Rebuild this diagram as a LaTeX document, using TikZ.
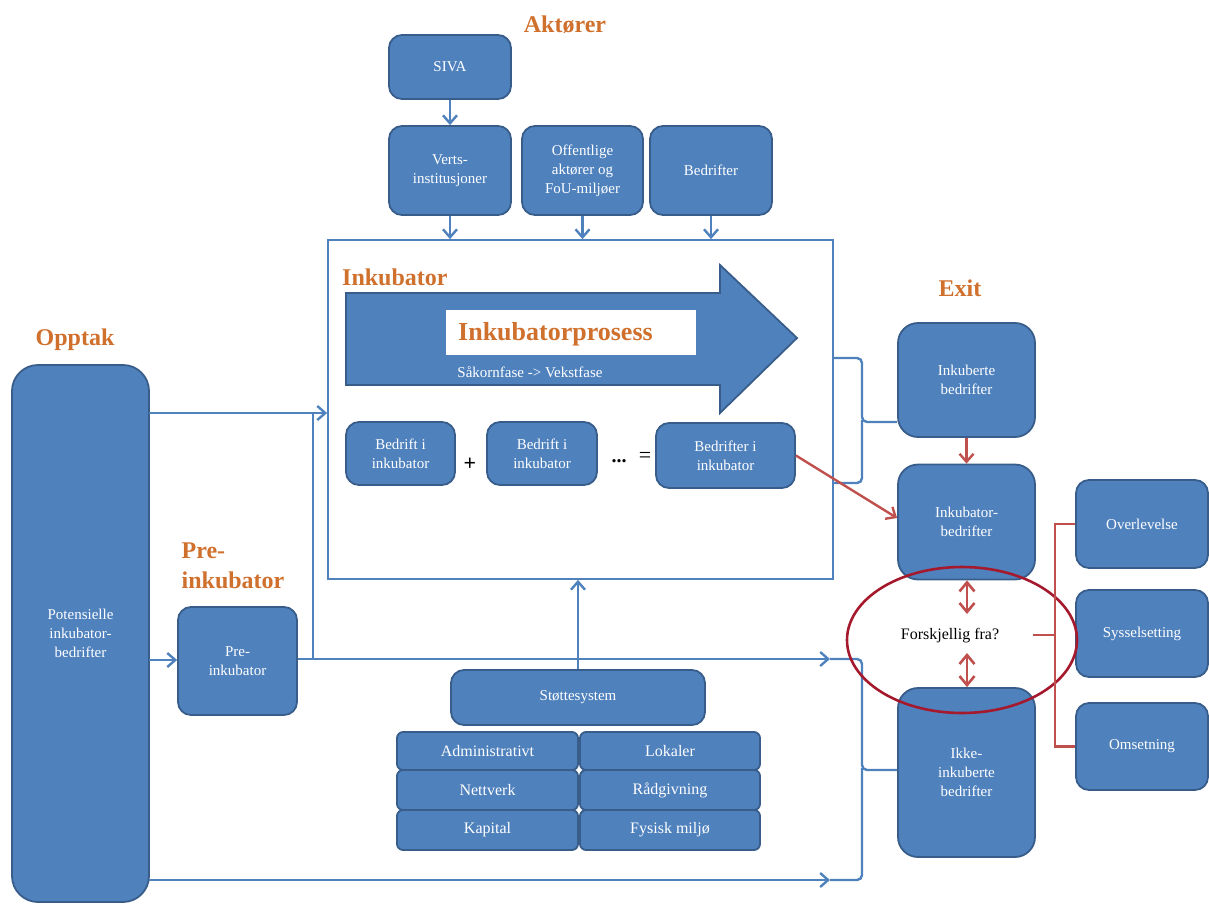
\documentclass[tikz,border=0pt]{standalone}
\usepackage{fontspec}
\setmainfont{Liberation Serif}
\usetikzlibrary{arrows.meta,shapes.geometric}
\definecolor{bfill}{RGB}{79,129,189}
\definecolor{bdr}{RGB}{56,93,138}
\definecolor{lblue}{RGB}{79,129,189}
\definecolor{ttl}{RGB}{208,112,45}
\definecolor{rline}{RGB}{192,80,77}
\definecolor{ellred}{RGB}{165,25,45}
\tikzset{
  box/.style={draw=bdr, fill=bfill, rounded corners=13pt, text=white, align=center,
    font=\fontsize{15}{19}\selectfont, inner sep=0pt, line width=1.8pt},
  gbox/.style={box, rounded corners=6pt, font=\fontsize{16}{17}\selectfont},
  title/.style={text=ttl, font=\bfseries\fontsize{24}{30}\selectfont, align=center, inner sep=0pt},
  barr/.style={draw=lblue, line width=2.4pt, -{Straight Barb[length=8pt,width=14pt]}},
  bline/.style={draw=lblue, line width=2.4pt},
  rarr/.style={draw=rline, line width=2.4pt, -{Straight Barb[length=8pt,width=14pt]}},
  rdarr/.style={draw=rline, line width=2.6pt, {Straight Barb[length=9pt,width=15pt]}-{Straight Barb[length=9pt,width=15pt]}},
  rline/.style={draw=rline, line width=2.4pt},
}
\begin{document}
\begin{tikzpicture}[x=1pt,y=-1pt]
\useasboundingbox (0,0) rectangle (1209,907);
% titles
\node[title] (tAkt) at (565,25) {Aktører};
\node[title, anchor=west] (tInk) at (342,277) {Inkubator};
\node[title] (tOpp) at (75,340) {Opptak};
\node[title, align=left] (tPre) at (233,566) {Pre-\\inkubator};
\node[title] (tExit) at (960,288) {Exit};
% inkubator frame
\node[draw=lblue, line width=1.8pt, minimum width=505pt, minimum height=339pt, inner sep=0pt] (ink) at (580.5,409.5) {};
% actors
\node[box, minimum width=122pt, minimum height=64pt] (siva) at (450,67) {SIVA};
\node[box, minimum width=122pt, minimum height=89pt] (verts) at (450,170.5) {Verts-\\institusjoner};
\node[box, minimum width=121pt, minimum height=89pt] (off) at (582.5,170.5) {Offentlige\\aktører og\\FoU-miljøer};
\node[box, minimum width=122pt, minimum height=89pt] (bed) at (711,170.5) {Bedrifter};
\draw[barr] (siva) -- (verts);
\draw[barr] (verts) -- (verts |- ink.north);
\draw[barr] (off) -- (off |- ink.north);
\draw[barr] (bed) -- (bed |- ink.north);
% big process arrow
\draw[draw=bdr, fill=bfill, line width=1.8pt] (346,293) -- (720,293) -- (720,265) -- (797,338) -- (720,413) -- (720,385) -- (346,385) -- cycle;
\node[fill=white, minimum width=250pt, minimum height=45pt, inner sep=0pt] (wbox) at (571,332.5) {};
\node[anchor=west, text=ttl, font=\bfseries\fontsize{26}{27}\selectfont, inner sep=0pt] (proc) at (458,334) {Inkubatorprosess};
\node[text=white, font=\fontsize{15}{16}\selectfont, inner sep=0pt] (fase) at (530,372) {Såkornfase -> Vekstfase};
% companies in incubator
\node[box, minimum width=109pt, minimum height=63pt] (b1) at (400.5,453.5) {Bedrift i\\inkubator};
\node[box, minimum width=110pt, minimum height=63pt] (b2) at (542,453.5) {Bedrift i\\inkubator};
\node[box, minimum width=139pt, minimum height=65pt] (b3) at (725.5,455.5) {Bedrifter i\\inkubator};
\node[font=\bfseries\fontsize{22}{22}\selectfont, inner sep=0pt] (plus) at (470,464) {+};
\node[font=\bfseries\fontsize{20}{20}\selectfont, inner sep=0pt] (dots) at (619,461) {...};
\node[font=\fontsize{22}{22}\selectfont, inner sep=0pt] (eq) at (645,457) {=};
% left
\node[box, rounded corners=26pt, minimum width=137pt, minimum height=537pt] (pot) at (80.5,633.5) {Potensielle\\inkubator-\\bedrifter};
\node[box, minimum width=119pt, minimum height=108pt] (pre) at (237.5,661) {Pre-\\inkubator};
\coordinate (p1) at (149,413);
\coordinate (j1) at (313,413);
\coordinate (j2) at (313,659);
\coordinate (p2) at (149,660);
\coordinate (e1) at (830,659);
\coordinate (p3) at (149,880);
\coordinate (e3) at (830,880);
\draw[barr] (p1) -- (p1 -| ink.west);
\draw[barr] (p2) -- (pre.west |- p2);
\draw[barr] (pre.east |- j2) -- (e1);
\draw[bline] (j2) -- (j1);
\draw[barr] (p3) -- (e3);
% support system
\node[box, minimum width=254pt, minimum height=55pt] (stotte) at (578,697.5) {Støttesystem};
\draw[barr] (stotte.north) -- (stotte.north |- ink.south);
\node[gbox, minimum width=181pt, minimum height=38pt] (adm) at (487.5,751) {Administrativt};
\node[gbox, minimum width=180pt, minimum height=38pt] (lok) at (670,751) {Lokaler};
\node[gbox, minimum width=181pt, minimum height=40pt] (nett) at (487.5,790) {Nettverk};
\node[gbox, minimum width=180pt, minimum height=40pt] (rad) at (670,790) {Rådgivning};
\node[gbox, minimum width=181pt, minimum height=40pt] (kap) at (487.5,830) {Kapital};
\node[gbox, minimum width=180pt, minimum height=40pt] (fys) at (670,830) {Fysisk miljø};
% exit
\node[box, rounded corners=20pt, minimum width=137pt, minimum height=114pt] (inkb) at (966.5,380) {Inkuberte\\bedrifter};
\node[box, rounded corners=20pt, minimum width=137pt, minimum height=115pt] (inkbed) at (966.5,522) {Inkubator-\\bedrifter};
\node[box, rounded corners=20pt, minimum width=137pt, minimum height=169pt] (ikke) at (966.5,772.5) {Ikke-\\inkuberte\\bedrifter};
\node[box, minimum width=132pt, minimum height=88pt] (over) at (1142,524) {Overlevelse};
\node[box, minimum width=132pt, minimum height=87pt] (syss) at (1142,633.5) {Sysselsetting};
\node[box, minimum width=132pt, minimum height=87pt] (oms) at (1142,746.5) {Omsetning};
% blue braces
\draw[bline, rounded corners=5pt] (ink.east |- 0,358) -- (862,358) -- (862,422) -- (inkb.west |- 0,422);
\draw[bline, rounded corners=5pt] (862,420) -- (862,483) -- (ink.east |- 0,483);
\draw[bline, rounded corners=5pt] (e1) -- (862,659) -- (862,770) -- (ikke.west |- 0,770);
\draw[bline, rounded corners=5pt] (862,768) -- (862,880) -- (e3);
% red arrows
\draw[rarr] (inkb) -- (inkbed);
\draw[rarr] (b3.east) -- (inkbed.west |- 0,518);
% ellipse
\node[draw=ellred, ellipse, line width=2.6pt, minimum width=230pt, minimum height=146pt, inner sep=0pt] (ell) at (962,640) {};
\node[font=\fontsize{16}{17}\selectfont, inner sep=0pt] (fra) at (950,636) {Forskjellig fra?};
\coordinate (d1) at (967,614);
\coordinate (d2) at (967,653);
\draw[rdarr] (inkbed.south -| d1) -- (d1);
\draw[rdarr] (d2) -- (ikke.north -| d2);
% red brace
\draw[rline] (over.west) -- (1055,524) -- (1055,746.5) -- (oms.west);
\draw[rline] (1033,635) -- (1055,635);
\end{tikzpicture}
\end{document}
